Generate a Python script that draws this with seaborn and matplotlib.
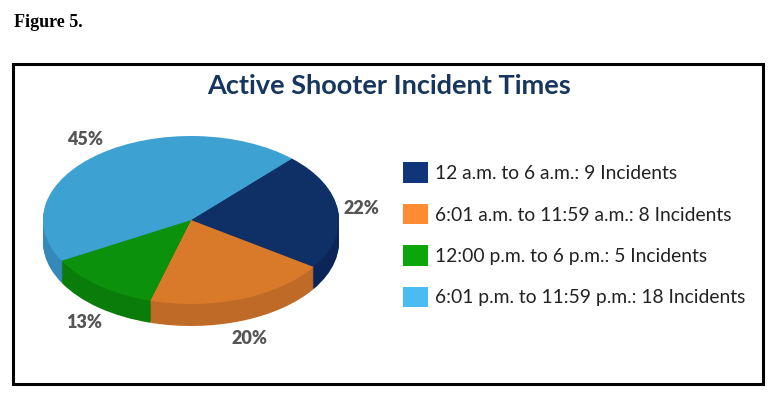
import matplotlib
matplotlib.use("Agg")
import matplotlib.pyplot as plt
import matplotlib.patches as mpatches
import numpy as np
import seaborn as sns

# ── DATA ──────────────────────────────────────────────────────────────────────
periods   = ["12 a.m. to 6 a.m.", "6:01 a.m. to 11:59 a.m.",
             "12:00 p.m. to 6 p.m.", "6:01 p.m. to 11:59 p.m."]
incidents = [9, 8, 5, 18]
pct_text  = ["22%", "20%", "13%", "45%"]

top_colors    = ["#0f3066", "#d97a2b", "#0b910b", "#3da1d1"]
side_colors   = ["#0b2558", "#bf6a27", "#097c09", "#3589ba"]
legend_colors = ["#103578", "#ff8c33", "#0aa60a", "#4bbcf2"]

# ── STYLE ─────────────────────────────────────────────────────────────────────
sns.set_theme(style="white")
plt.rcParams["font.family"] = ["Lato", "DejaVu Sans"]

W, H = 776, 394
fig = plt.figure(figsize=(W / 100, H / 100), dpi=100)
fig.patch.set_facecolor("white")

def fx(px):
    return px / W

def fy(py):
    return 1 - py / H

# outer frame + caption
fig.patches.append(mpatches.Rectangle((fx(13), fy(384)), fx(763) - fx(13), fy(64) - fy(384),
                                      transform=fig.transFigure, fill=False,
                                      edgecolor="black", linewidth=2.2))
fig.text(fx(14), fy(27), "Figure 5.", family="Liberation Serif", fontweight="bold",
         fontsize=13, color="black", ha="left", va="baseline")
fig.text(fx(389), fy(86), "Active Shooter Incident Times", fontsize=19.5,
         fontweight="bold", color="#17365d", ha="center", va="center")

# ── PIE (squashed, with depth) ────────────────────────────────────────────────
rx, ry = 148, 84          # pixel radii of the top ellipse
cx, cy = 191, 220         # pixel centre of the top ellipse
depth_px = 22
xl, yl_lo, yl_hi = 1.2, -1.6, 1.3
ax = fig.add_axes([fx(cx - xl * rx), fy(cy - yl_lo * ry), 2 * xl * rx / W,
                   (yl_hi - yl_lo) * ry / H])
ax.axis("off")

depth = depth_px / ry
for k in np.arange(depth_px, 0, -1):
    ax.pie(incidents, colors=side_colors, startangle=47, counterclock=False,
           center=(0, -k / ry), wedgeprops=dict(linewidth=0, edgecolor="none"))
wedges, _ = ax.pie(incidents, colors=top_colors, startangle=47, counterclock=False,
                   wedgeprops=dict(linewidth=0, edgecolor="none"))
ax.set_aspect("auto")
ax.set_xlim(-xl, xl)
ax.set_ylim(yl_lo, yl_hi)

for w, t in zip(wedges, pct_text):
    mid = np.deg2rad((w.theta1 + w.theta2) / 2)
    x, y = 1.16 * np.cos(mid), 1.22 * np.sin(mid)
    if y < 0:
        y -= depth
    ax.text(x, y, t, ha="center", va="center", fontsize=13, fontweight="heavy",
            color="#555555", family=["Lato", "DejaVu Sans"])

# ── LEGEND ────────────────────────────────────────────────────────────────────
handles = [mpatches.Patch(facecolor=c, edgecolor="none", label=f"{p}: {n} Incidents")
           for c, p, n in zip(legend_colors, periods, incidents)]
fig.legend(handles=handles, loc="upper left", bbox_to_anchor=(fx(386), fy(145)),
           frameon=False, fontsize=13.9, handlelength=1.26, handleheight=1.26,
           handletextpad=0.4, labelspacing=1.08, labelcolor="#222222")

plt.savefig("out.png", dpi=100)
